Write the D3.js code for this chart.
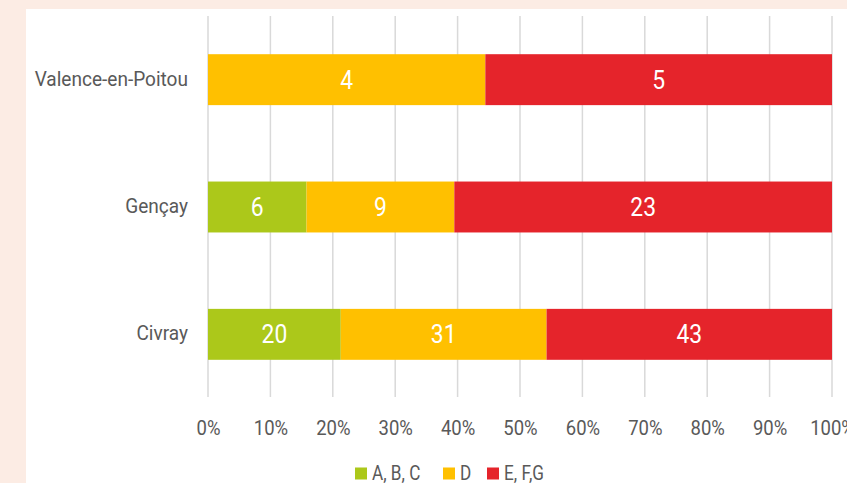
<!DOCTYPE html>
<html>
<head>
<meta charset="utf-8">
<script src="https://cdn.jsdelivr.net/npm/d3@7"></script>
<style>
  html, body { margin: 0; padding: 0; background: #fcece4; }
  svg { display: block; }
  text { font-family: Roboto, "Noto Sans", sans-serif; }
</style>
</head>
<body>
<svg id="chart" width="847" height="483"></svg>
<script>
// Communes and counts of dwellings per energy class group
const communes = ["Valence-en-Poitou", "Gençay", "Civray"];
const seriesNames = ["A, B, C", "D", "E, F,G"];
const seriesColors = ["#acc81a", "#ffc000", "#e5242b"];
const valuesABC = [0, 6, 20];
const valuesD = [4, 9, 31];
const valuesEFG = [5, 23, 43];
const tickValues = [0, 0.1, 0.2, 0.3, 0.4, 0.5, 0.6, 0.7, 0.8, 0.9, 1];

const rows = communes.map((c, i) => ({
  commune: c,
  "A, B, C": valuesABC[i],
  "D": valuesD[i],
  "E, F,G": valuesEFG[i]
}));

// horizontal squeeze to get a condensed look
const SQ = 0.88;
const svg = d3.select("#chart");

// white panel
svg.append("rect").attr("x", 26).attr("y", 9).attr("width", 847).attr("height", 483).attr("fill", "#ffffff");

const x = d3.scaleLinear().domain([0, 1]).range([208, 832]);
const y = d3.scaleBand().domain(communes).range([16, 398]).paddingInner(0.6).paddingOuter(0.3);

// vertical gridlines
svg.append("g").selectAll("line").data(tickValues).join("line")
  .attr("x1", d => x(d)).attr("x2", d => x(d))
  .attr("y1", 16).attr("y2", 397)
  .attr("stroke", "#d9d9d9").attr("stroke-width", 1.5);

const stack = d3.stack().keys(seriesNames).offset(d3.stackOffsetExpand);
const layers = stack(rows);

const g = svg.append("g");
layers.forEach((layer, li) => {
  const lg = g.append("g").attr("fill", seriesColors[li]);
  lg.selectAll("rect").data(layer).join("rect")
    .attr("x", d => x(d[0]))
    .attr("width", d => x(d[1]) - x(d[0]))
    .attr("y", d => y(d.data.commune))
    .attr("height", y.bandwidth());
  lg.selectAll("text").data(layer.filter(d => d.data[layer.key] > 0)).join("text")
    .attr("transform", d => `translate(${(x(d[0]) + x(d[1])) / 2},${y(d.data.commune) + y.bandwidth() / 2 + 9}) scale(${SQ},1)`)
    .attr("text-anchor", "middle")
    .attr("fill", "#ffffff")
    .style("font-size", "26px")
    .text(d => d.data[layer.key]);
});

// category labels
svg.append("g").selectAll("text").data(communes).join("text")
  .attr("transform", d => `translate(188,${y(d) + y.bandwidth() / 2 + 6}) scale(0.93,1)`)
  .attr("text-anchor", "end")
  .attr("fill", "#595959")
  .style("font-size", "20.5px")
  .text(d => d);

// x axis tick labels
const xAxis = d3.axisBottom(x).tickValues(tickValues).tickFormat(d3.format(".0%")).tickSize(0).tickPadding(0);
const ax = svg.append("g").attr("transform", "translate(0,435)").call(xAxis);
ax.select(".domain").remove();
ax.selectAll("text")
  .attr("y", 0).attr("dy", null)
  .attr("transform", `scale(${SQ},1)`)
  .attr("fill", "#595959").style("font-size", "21px");

// legend
const legendX = [355, 443, 487];
const legend = svg.append("g");
seriesNames.forEach((s, i) => {
  legend.append("rect").attr("x", legendX[i]).attr("y", 467.5).attr("width", 12).attr("height", 12).attr("fill", seriesColors[i]);
  legend.append("text")
    .attr("transform", `translate(${legendX[i] + 17},479.5) scale(${SQ},1)`)
    .attr("fill", "#595959").style("font-size", "19.5px").text(s);
});
</script>
</body>
</html>
